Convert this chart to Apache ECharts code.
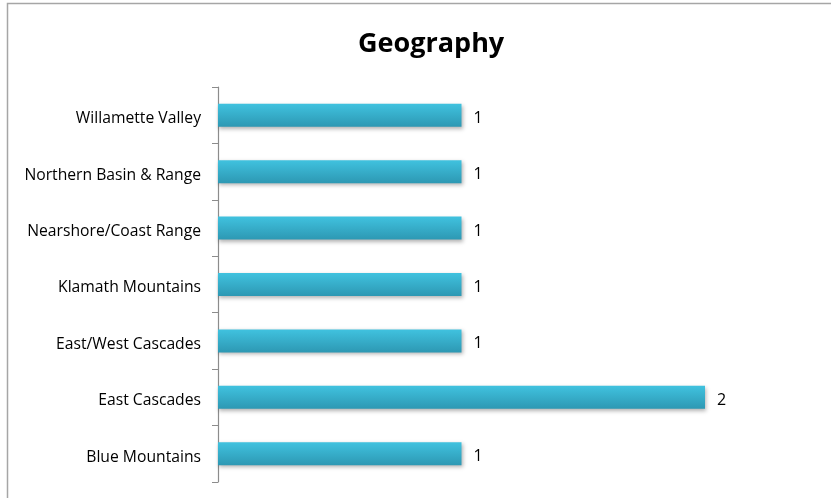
<!DOCTYPE html>
<html><head><meta charset="utf-8">
<script src="https://cdn.jsdelivr.net/npm/echarts@6/dist/echarts.min.js"></script>
<style>html,body{margin:0;padding:0;background:#fff}#c{width:831px;height:498px}</style>
</head><body><div id="c"></div>
<script>
const categories = ['Blue Mountains','East Cascades','East/West Cascades','Klamath Mountains','Nearshore/Coast Range','Northern Basin & Range','Willamette Valley'];
const values = [1,2,1,1,1,1,1];
const chart = echarts.init(document.getElementById('c'));
chart.setOption({
  animation:false,
  title:{text:'Geography',left:353,top:26,textStyle:{fontFamily:'Open Sans',fontSize:27,fontWeight:'bold',color:'#000'}},
  graphic:[{type:'rect',shape:{x:7.5,y:3.5,width:900,height:600},style:{fill:'none',stroke:'#a6a6a6',lineWidth:1.5},silent:true}],
  grid:{left:218,top:87,bottom:16,width:487},
  xAxis:{type:'value',min:0,max:2,show:false},
  yAxis:{type:'category',data:categories,
    axisLine:{lineStyle:{color:'#8c8c8c',width:1.2}},
    axisTick:{show:true,length:6,lineStyle:{color:'#8c8c8c'}},
    axisLabel:{margin:17,formatter:v=>'{a|'+v+'}',
      rich:{a:{fontFamily:'Open Sans',fontSize:15.7,color:'#000',padding:[7,0,0,0]}}}},
  series:[{type:'bar',data:values,barWidth:23,
    itemStyle:{color:new echarts.graphic.LinearGradient(0,0,0,1,[{offset:0,color:'#40c2df'},{offset:1,color:'#2d98b3'}]),
      shadowColor:'rgba(0,0,0,0.3)',shadowBlur:4,shadowOffsetY:2,shadowOffsetX:1},
    label:{show:true,position:'right',distance:12,formatter:'{a|{c}}',
      rich:{a:{fontFamily:'Open Sans',fontSize:16,color:'#000',padding:[6,0,0,0]}}}}]
});
</script></body></html>
